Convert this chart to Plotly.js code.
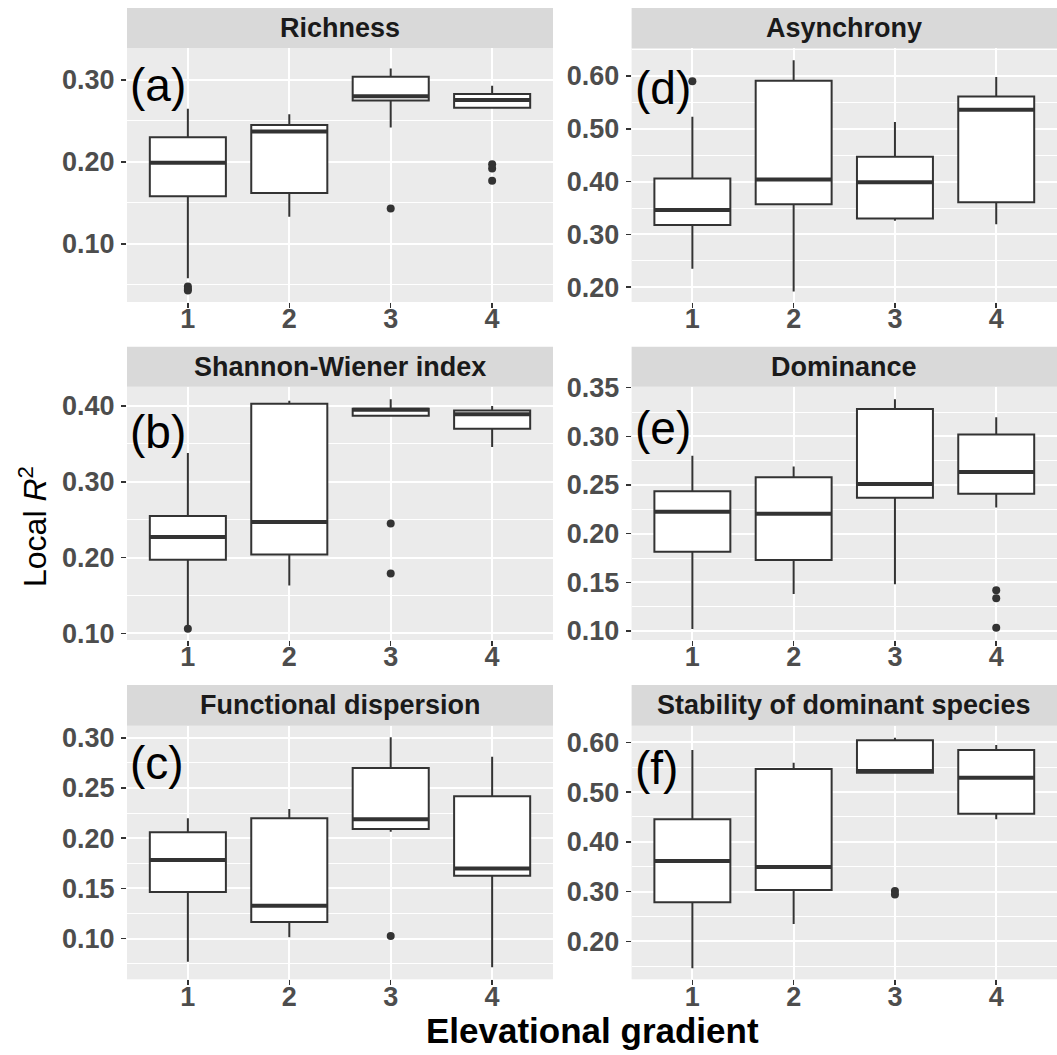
<!DOCTYPE html>
<html>
<head>
<meta charset="utf-8">
<script src="https://cdn.plot.ly/plotly-3.0.1.min.js"></script>
<style>html,body{margin:0;padding:0;background:#fff;}#chart{width:1057px;height:1055px;}</style>
</head>
<body>
<div id="chart"></div>
<script>
// ---------------- DATA ----------------
const categories = [1, 2, 3, 4];
const tickLabels = ["1", "2", "3", "4"];

// (a) Richness
const richLow = [0.058, 0.133, 0.242, 0.266];
const richQ1  = [0.158, 0.162, 0.275, 0.266];
const richMed = [0.199, 0.237, 0.280, 0.2756];
const richQ3  = [0.230, 0.245, 0.304, 0.283];
const richUp  = [0.265, 0.258, 0.314, 0.293];
const richOutX = [1, 1, 1, 3, 4, 4, 4];
const richOutY = [0.048, 0.045, 0.043, 0.143, 0.197, 0.192, 0.177];

// (b) Shannon-Wiener index
const shanLow = [0.110, 0.163, 0.386, 0.346];
const shanQ1  = [0.197, 0.204, 0.387, 0.370];
const shanMed = [0.227, 0.247, 0.395, 0.389];
const shanQ3  = [0.255, 0.403, 0.3965, 0.394];
const shanUp  = [0.338, 0.407, 0.409, 0.400];
const shanOutX = [1, 3, 3];
const shanOutY = [0.106, 0.245, 0.179];

// (c) Functional dispersion
const fdLow = [0.0771, 0.1014, 0.2065, 0.0715];
const fdQ1  = [0.1465, 0.1166, 0.2092, 0.1627];
const fdMed = [0.1783, 0.1328, 0.2188, 0.170];
const fdQ3  = [0.2059, 0.2198, 0.2699, 0.2417];
const fdUp  = [0.2198, 0.229, 0.3004, 0.2811];
const fdOutX = [3];
const fdOutY = [0.1027];

// (d) Asynchrony
const asyLow = [0.235, 0.192, 0.326, 0.319];
const asyQ1  = [0.318, 0.357, 0.330, 0.361];
const asyMed = [0.346, 0.404, 0.399, 0.536];
const asyQ3  = [0.406, 0.591, 0.447, 0.561];
const asyUp  = [0.523, 0.630, 0.513, 0.598];
const asyOutX = [1];
const asyOutY = [0.590];

// (e) Dominance
const domLow = [0.102, 0.138, 0.148, 0.227];
const domQ1  = [0.1815, 0.173, 0.237, 0.241];
const domMed = [0.2226, 0.2205, 0.251, 0.2634];
const domQ3  = [0.2435, 0.258, 0.328, 0.302];
const domUp  = [0.280, 0.269, 0.338, 0.3196];
const domOutX = [4, 4, 4];
const domOutY = [0.1418, 0.1336, 0.1033];

// (f) Stability of dominant species
const stabLow = [0.1457, 0.2348, 0.539, 0.4452];
const stabQ1  = [0.2784, 0.3031, 0.539, 0.4565];
const stabMed = [0.3614, 0.3493, 0.5423, 0.5288];
const stabQ3  = [0.4452, 0.5463, 0.604, 0.5845];
const stabUp  = [0.5845, 0.559, 0.609, 0.5946];
const stabOutX = [3, 3];
const stabOutY = [0.301, 0.294];

const panelTitles = ["Richness", "Asynchrony", "Shannon-Wiener index", "Dominance", "Functional dispersion", "Stability of dominant species"];
const panelTags = ["(a)", "(d)", "(b)", "(e)", "(c)", "(f)"];

// ---------------- LAYOUT HELPERS ----------------
const W = 1057, H = 1055;
const px = x => x / W;
const py = y => 1 - y / H;

const colX = [[127, 553], [631.6, 1057]];
const rowY = [[48, 302], [386.7, 640], [725.7, 979.3]];
const stripY = [[8, 48], [346.7, 386.7], [685, 725.7]];

const panels = [
  {low: richLow, q1: richQ1, med: richMed, q3: richQ3, up: richUp, ox: richOutX, oy: richOutY, range: [0.029, 0.339], dtick: 0.1, tick0: 0.1, row: 0, col: 0, tagY: 85},
  {low: asyLow, q1: asyQ1, med: asyMed, q3: asyQ3, up: asyUp, ox: asyOutX, oy: asyOutY, range: [0.172, 0.653], dtick: 0.1, tick0: 0.2, row: 0, col: 1, tagY: 88},
  {low: shanLow, q1: shanQ1, med: shanMed, q3: shanQ3, up: shanUp, ox: shanOutX, oy: shanOutY, range: [0.0912, 0.4255], dtick: 0.1, tick0: 0.1, row: 1, col: 0, tagY: 432},
  {low: domLow, q1: domQ1, med: domMed, q3: domQ3, up: domUp, ox: domOutX, oy: domOutY, range: [0.0908, 0.351], dtick: 0.05, tick0: 0.1, row: 1, col: 1, tagY: 428},
  {low: fdLow, q1: fdQ1, med: fdMed, q3: fdQ3, up: fdUp, ox: fdOutX, oy: fdOutY, range: [0.0596, 0.312], dtick: 0.05, tick0: 0.1, row: 2, col: 0, tagY: 763},
  {low: stabLow, q1: stabQ1, med: stabMed, q3: stabQ3, up: stabUp, ox: stabOutX, oy: stabOutY, range: [0.1236, 0.6334], dtick: 0.1, tick0: 0.2, row: 2, col: 1, tagY: 768}
];

const BOXW = 0.75;
const lineCol = '#333333';
const tickFont = {family: 'Liberation Sans, Arial, sans-serif', size: 27, color: '#4D4D4D', weight: 'bold'};

const traces = [];
const layout = {
  width: W, height: H,
  margin: {l: 0, r: 0, t: 0, b: 0},
  paper_bgcolor: '#FFFFFF',
  plot_bgcolor: '#EBEBEB',
  showlegend: false,
  shapes: [],
  annotations: []
};

panels.forEach((p, i) => {
  const n = i + 1;
  const xa = 'x' + (n === 1 ? '' : n);
  const ya = 'y' + (n === 1 ? '' : n);
  const xk = 'xaxis' + (n === 1 ? '' : n);
  const yk = 'yaxis' + (n === 1 ? '' : n);
  const cx = colX[p.col], ry = rowY[p.row], sy = stripY[p.row];

  layout[xk] = {
    domain: [px(cx[0]), px(cx[1])],
    anchor: ya,
    range: [0.4, 4.6],
    tickvals: categories,
    ticktext: tickLabels,
    showgrid: true, gridcolor: '#FFFFFF', gridwidth: 2,
    zeroline: false, showline: false,
    ticks: 'outside', ticklen: 5, tickwidth: 1.5, tickcolor: lineCol,
    ticklabelstandoff: -12,
    tickfont: tickFont,
    fixedrange: true
  };
  layout[yk] = {
    domain: [py(ry[1]), py(ry[0])],
    anchor: xa,
    range: p.range,
    tick0: p.tick0, dtick: p.dtick,
    tickformat: '.2f',
    showgrid: true, gridcolor: '#FFFFFF', gridwidth: 2,
    minor: {dtick: p.dtick / 2, tick0: p.tick0, showgrid: true, gridcolor: '#FFFFFF', gridwidth: 1, ticks: ''},
    zeroline: false, showline: false,
    ticks: 'outside', ticklen: 5, tickwidth: 1.5, tickcolor: lineCol,
    ticklabelstandoff: 1,
    tickfont: tickFont,
    fixedrange: true
  };

  // box
  traces.push({
    type: 'box', xaxis: xa, yaxis: ya,
    x: categories,
    q1: p.q1, median: p.med, q3: p.q3,
    lowerfence: p.low, upperfence: p.up,
    boxpoints: false,
    width: BOXW,
    whiskerwidth: 0,
    fillcolor: '#FFFFFF',
    line: {color: lineCol, width: 2},
    hoverinfo: 'skip'
  });

  // thick median lines (ggplot fatten)
  const mx = [], my = [];
  categories.forEach((c, k) => {
    mx.push(c - BOXW / 2, c + BOXW / 2, null);
    my.push(p.med[k], p.med[k], null);
  });
  traces.push({
    type: 'scatter', mode: 'lines', xaxis: xa, yaxis: ya,
    x: mx, y: my, line: {color: lineCol, width: 4}, hoverinfo: 'skip'
  });

  // outliers
  traces.push({
    type: 'scatter', mode: 'markers', xaxis: xa, yaxis: ya,
    x: p.ox, y: p.oy,
    marker: {color: lineCol, size: 8},
    hoverinfo: 'skip'
  });

  // strip
  layout.shapes.push({
    type: 'rect', xref: 'paper', yref: 'paper',
    x0: px(cx[0]), x1: px(cx[1]), y0: py(sy[1]), y1: py(sy[0]),
    fillcolor: '#D9D9D9', line: {width: 0}, layer: 'below'
  });
  layout.annotations.push({
    xref: 'paper', yref: 'paper',
    x: px((cx[0] + cx[1]) / 2), y: py((sy[0] + sy[1]) / 2),
    xanchor: 'center', yanchor: 'middle',
    text: panelTitles[i], showarrow: false,
    font: {family: 'Liberation Sans, Arial, sans-serif', size: 27, color: '#1A1A1A', weight: 'bold'}
  });
  // panel tag
  layout.annotations.push({
    xref: 'paper', yref: 'paper',
    x: px(cx[0] + 1), y: py(p.tagY),
    xanchor: 'left', yanchor: 'middle',
    text: panelTags[i], showarrow: false,
    font: {family: 'Liberation Sans, Arial, sans-serif', size: 46, color: '#000000'}
  });
});

// global axis titles
layout.annotations.push({
  xref: 'paper', yref: 'paper',
  x: px(592), y: py(1030), xanchor: 'center', yanchor: 'middle',
  text: 'Elevational gradient', showarrow: false,
  font: {family: 'Liberation Sans, Arial, sans-serif', size: 35, color: '#000000', weight: 'bold'}
});
layout.annotations.push({
  xref: 'paper', yref: 'paper',
  x: px(33), y: py(527), xanchor: 'center', yanchor: 'middle',
  textangle: -90,
  text: 'Local <i>R</i><sup>2</sup>', showarrow: false,
  font: {family: 'Liberation Sans, Arial, sans-serif', size: 32, color: '#000000'}
});

Plotly.newPlot('chart', traces, layout, {staticPlot: true, displayModeBar: false});
</script>
</body>
</html>
